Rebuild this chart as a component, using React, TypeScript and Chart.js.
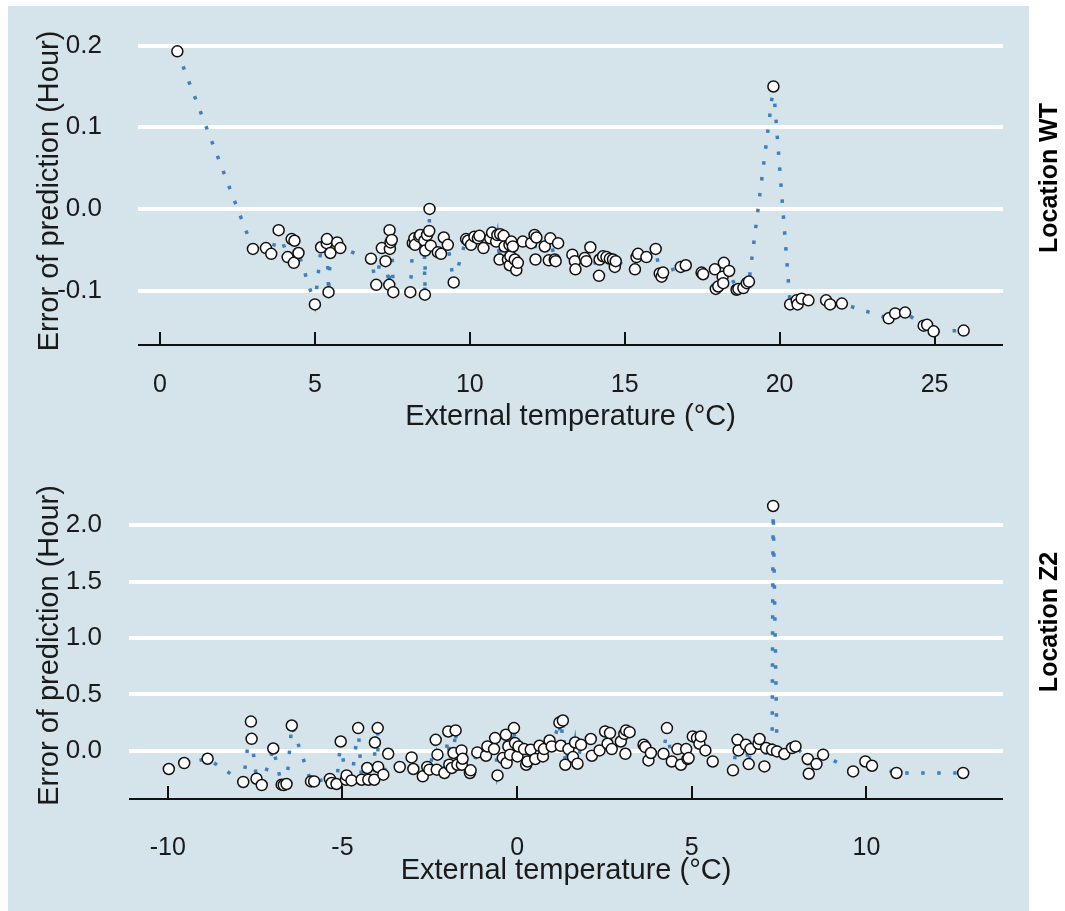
import React, { useEffect, useRef } from 'react';
import { Chart, registerables } from 'chart.js';

Chart.register(...registerables);

// ---------- Data ----------
const wtTemp = [
  0.56, 3.0, 3.42, 3.59, 3.83, 4.12, 4.25, 4.32, 4.34, 4.47, 5.0, 5.2, 5.38, 5.39, 5.44, 5.5, 5.72, 5.82,
  6.81, 6.98, 7.16, 7.28, 7.4, 7.41, 7.42, 7.44, 7.48, 7.53, 8.08, 8.16, 8.21, 8.23, 8.37, 8.4, 8.53, 8.55,
  8.56, 8.62, 8.69, 8.7, 8.74, 8.97, 9.07, 9.16, 9.29, 9.48, 9.88, 9.94, 10.04, 10.15, 10.26, 10.31, 10.44,
  10.66, 10.72, 10.85, 10.89, 10.96, 10.98, 11.09, 11.12, 11.23, 11.28, 11.29, 11.31, 11.34, 11.39, 11.45,
  11.5, 11.55, 11.71, 11.98, 12.09, 12.12, 12.15, 12.42, 12.55, 12.6, 12.74, 12.77, 12.85, 13.31, 13.39,
  13.41, 13.71, 13.76, 13.89, 14.17, 14.19, 14.3, 14.41, 14.52, 14.62, 14.68, 14.71, 15.33, 15.38, 15.43,
  15.7, 16.0, 16.13, 16.19, 16.24, 16.81, 16.97, 17.48, 17.53, 17.91, 17.94, 18.02, 18.16, 18.18, 18.2,
  18.37, 18.61, 18.67, 18.83, 18.94, 19.01, 19.8, 20.34, 20.55, 20.58, 20.71, 20.93, 21.5, 21.63, 22.01,
  23.52, 23.73, 24.05, 24.65, 24.76, 24.97, 25.94,
];
const wtError = [
  0.193, -0.049, -0.048, -0.055, -0.026, -0.059, -0.037, -0.066, -0.039, -0.054, -0.117, -0.047, -0.042,
  -0.037, -0.102, -0.054, -0.041, -0.048, -0.061, -0.093, -0.048, -0.064, -0.093, -0.026, -0.049, -0.041,
  -0.038, -0.102, -0.102, -0.042, -0.036, -0.044, -0.034, -0.032, -0.039, -0.105, -0.051, -0.032, -0.027,
  0.0, -0.045, -0.053, -0.055, -0.035, -0.044, -0.09, -0.037, -0.039, -0.044, -0.034, -0.036, -0.033,
  -0.048, -0.036, -0.029, -0.04, -0.032, -0.062, -0.031, -0.033, -0.046, -0.062, -0.044, -0.069, -0.058,
  -0.04, -0.046, -0.062, -0.075, -0.066, -0.04, -0.042, -0.032, -0.062, -0.035, -0.046, -0.063, -0.036,
  -0.062, -0.064, -0.042, -0.056, -0.064, -0.074, -0.06, -0.064, -0.047, -0.082, -0.062, -0.058, -0.059,
  -0.061, -0.062, -0.071, -0.064, -0.074, -0.059, -0.055, -0.059, -0.049, -0.079, -0.083, -0.078, -0.071,
  -0.069, -0.078, -0.08, -0.074, -0.098, -0.095, -0.083, -0.091, -0.066, -0.076, -0.099, -0.098, -0.097,
  -0.091, -0.089, 0.15, -0.117, -0.112, -0.117, -0.11, -0.112, -0.112, -0.117, -0.116, -0.134, -0.128,
  -0.127, -0.143, -0.142, -0.15, -0.149,
];

const z2Temp = [
  -9.97, -9.53, -8.86, -7.84, -7.62, -7.6, -7.46, -7.31, -6.98, -6.74, -6.68, -6.6, -6.45, -5.9, -5.81,
  -5.36, -5.31, -5.17, -5.05, -4.9, -4.88, -4.74, -4.55, -4.45, -4.29, -4.26, -4.09, -4.07, -3.99, -3.98,
  -3.83, -3.69, -3.36, -3.02, -2.97, -2.7, -2.57, -2.51, -2.33, -2.3, -2.28, -2.08, -1.97, -1.94, -1.87,
  -1.82, -1.76, -1.71, -1.59, -1.58, -1.56, -1.35, -1.33, -1.14, -0.89, -0.85, -0.66, -0.63, -0.56, -0.41,
  -0.32, -0.3, -0.25, -0.2, -0.09, -0.06, 0.01, 0.04, 0.2, 0.26, 0.3, 0.39, 0.52, 0.64, 0.74, 0.77, 0.93,
  0.99, 1.21, 1.25, 1.31, 1.38, 1.47, 1.6, 1.66, 1.73, 1.83, 2.11, 2.14, 2.36, 2.52, 2.59, 2.66, 2.71, 2.97,
  3.07, 3.1, 3.12, 3.22, 3.62, 3.67, 3.76, 3.83, 4.19, 4.29, 4.43, 4.59, 4.69, 4.84, 4.88, 4.91, 5.03, 5.15,
  5.22, 5.26, 5.39, 5.6, 6.18, 6.31, 6.34, 6.55, 6.63, 6.68, 6.91, 6.94, 7.08, 7.13, 7.3, 7.33, 7.44, 7.65,
  7.87, 7.97, 8.32, 8.35, 8.57, 8.76, 9.62, 9.97, 10.16, 10.86, 12.77,
];
const z2Error = [
  -0.162, -0.109, -0.071, -0.277, 0.259, 0.106, -0.248, -0.304, 0.02, -0.301, -0.304, -0.295, 0.224, -0.272,
  -0.272, -0.25, -0.286, -0.295, 0.082, -0.257, -0.219, -0.263, 0.201, -0.257, -0.153, -0.257, -0.257,
  0.073, 0.201, -0.144, -0.212, -0.027, -0.144, -0.059, -0.162, -0.227, -0.144, -0.168, 0.097, -0.168,
  -0.035, -0.197, 0.171, -0.124, -0.153, -0.02, 0.18, -0.124, 0.003, -0.124, -0.071, -0.197, -0.174, -0.015,
  -0.044, 0.038, 0.015, 0.112, -0.219, -0.065, 0.142, -0.109, 0.038, -0.035, 0.201, 0.068, -0.05, 0.038,
  0.015, -0.124, -0.095, 0.009, -0.073, 0.044, -0.05, 0.015, 0.091, 0.038, 0.25, 0.044, 0.268, -0.124,
  0.015, -0.056, 0.073, -0.115, 0.053, 0.104, -0.044, 0.003, 0.171, 0.062, 0.157, 0.015, 0.082, 0.15,
  -0.027, 0.18, 0.165, 0.053, 0.033, -0.086, -0.02, -0.027, 0.201, -0.095, 0.015, -0.124, 0.015, -0.073,
  -0.065, 0.127, 0.112, 0.062, 0.127, 0.003, -0.095, -0.174, 0.097, 0.003, 0.053, -0.118, 0.015, 0.062,
  0.104, -0.139, 0.024, 0.009, 2.171, -0.006, -0.029, 0.024, 0.038, -0.073, -0.204, -0.118, -0.035, -0.183,
  -0.095, -0.133, -0.197, -0.197,
];

const wtXTicks = [0, 5, 10, 15, 20, 25];
const wtYTicks = [-0.1, 0.0, 0.1, 0.2];
const z2XTicks = [-10, -5, 0, 5, 10];
const z2YTicks = [0.0, 0.5, 1.0, 1.5, 2.0];

const xTitle = 'External temperature (°C)';
const yTitle = 'Error of prediction (Hour)';
const wtStrip = 'Location WT';
const z2Strip = 'Location Z2';

// ---------- Styling ----------
const FONT = "'Liberation Sans', Arial, Helvetica, sans-serif";
const PANEL_BG = '#d5e3ea';
const TEXT = '#1a1a1a';
const LINE_COLOR = '#3f7fbd';

const axisDecor = {
  id: 'axisDecor',
  beforeDatasetsDraw(chart: any) {
    const { ctx, chartArea, scales } = chart;
    const xs = scales.x;
    ctx.save();
    ctx.strokeStyle = '#111';
    ctx.lineWidth = 2;
    ctx.beginPath();
    ctx.moveTo(chartArea.left, chartArea.bottom);
    ctx.lineTo(chartArea.right, chartArea.bottom);
    xs.ticks.forEach((t: any) => {
      const px = Math.round(xs.getPixelForValue(t.value));
      ctx.moveTo(px, chartArea.bottom);
      ctx.lineTo(px, chartArea.bottom - 13);
    });
    ctx.stroke();
    ctx.restore();
  },
  afterDraw(chart: any, _args: any, opts: any) {
    const { ctx } = chart;
    ctx.save();
    ctx.translate(opts.stripX, opts.stripY);
    ctx.rotate(-Math.PI / 2);
    ctx.font = `bold 25px ${FONT}`;
    ctx.textAlign = 'center';
    ctx.textBaseline = 'middle';
    ctx.fillStyle = '#000';
    ctx.fillText(opts.strip, 0, 0);
    ctx.restore();
  },
};

type PanelCfg = {
  temps: number[];
  errors: number[];
  xTicks: number[];
  yTicks: number[];
  xMin: number;
  xMax: number;
  yMin: number;
  yMax: number;
  strip: string;
  stripY: number;
  height: number;
  offsetTop: number;
  top: number;
  yAxisWidth: number;
  yTickPad: number;
  xScaleHeight: number;
  xTickPad: number;
  xTitlePadBottom: number;
  rightPad: number;
};

function Panel({ cfg }: { cfg: PanelCfg }) {
  const ref = useRef<HTMLCanvasElement | null>(null);
  useEffect(() => {
    if (!ref.current) return;
    const pts = cfg.temps
      .map((t, i) => ({ x: t, y: cfg.errors[i] }))
      .sort((a, b) => a.x - b.x);
    const chart = new Chart(ref.current, {
      type: 'scatter',
      data: {
        datasets: [
          {
            data: pts,
            showLine: true,
            borderColor: LINE_COLOR,
            borderWidth: 3.5,
            borderDash: [3.5, 12.5],
            borderCapStyle: 'butt',
            tension: 0,
            pointRadius: 5.5,
            pointHoverRadius: 5.5,
            pointBackgroundColor: '#ffffff',
            pointBorderColor: '#111111',
            pointBorderWidth: 1.5,
          } as any,
        ],
      },
      options: {
        animation: false,
        responsive: false,
        devicePixelRatio: 1,
        events: [],
        layout: { padding: { left: 0, right: cfg.rightPad, top: cfg.top, bottom: 0 } },
        plugins: {
          legend: { display: false },
          tooltip: { enabled: false },
          axisDecor: { strip: cfg.strip, stripX: 1050, stripY: cfg.stripY },
        } as any,
        scales: {
          x: {
            type: 'linear',
            min: cfg.xMin,
            max: cfg.xMax,
            afterBuildTicks: (s: any) => {
              s.ticks = cfg.xTicks.map((v) => ({ value: v }));
            },
            afterFit: (s: any) => {
              s.height = cfg.xScaleHeight;
              s.paddingLeft = 0;
              s.paddingRight = 0;
            },
            grid: { display: false, drawTicks: false },
            border: { display: false },
            ticks: {
              autoSkip: false,
              maxRotation: 0,
              padding: cfg.xTickPad,
              color: TEXT,
              font: { size: 25, family: FONT },
              callback: (v: any) => String(v),
            },
            title: {
              display: true,
              text: xTitle,
              color: TEXT,
              font: { size: 29, family: FONT },
              padding: { top: 0, bottom: cfg.xTitlePadBottom },
            },
          },
          y: {
            type: 'linear',
            min: cfg.yMin,
            max: cfg.yMax,
            afterBuildTicks: (s: any) => {
              s.ticks = cfg.yTicks.map((v) => ({ value: v }));
            },
            afterFit: (s: any) => {
              s.width = cfg.yAxisWidth;
              s.paddingTop = 0;
              s.paddingBottom = 0;
            },
            grid: { color: '#ffffff', lineWidth: 4, drawTicks: false },
            border: { display: false },
            ticks: {
              autoSkip: false,
              padding: cfg.yTickPad,
              color: TEXT,
              font: { size: 26, family: FONT },
              callback: (v: any) => Number(v).toFixed(1),
            },
            title: {
              display: true,
              text: yTitle,
              color: TEXT,
              font: { size: 29, family: FONT },
              padding: { top: 32.5, bottom: 0 },
            },
          },
        },
      },
      plugins: [axisDecor as any],
    });
    return () => chart.destroy();
  }, [cfg]);
  return (
    <canvas
      ref={ref}
      width={1065}
      height={cfg.height}
      style={{ position: 'absolute', left: 0, top: cfg.offsetTop, width: 1065, height: cfg.height }}
    />
  );
}

const wtCfg: PanelCfg = {
  temps: wtTemp,
  errors: wtError,
  xTicks: wtXTicks,
  yTicks: wtYTicks,
  xMin: -0.71,
  xMax: 27.21,
  yMin: -0.1667,
  yMax: 0.2106,
  strip: wtStrip,
  stripY: 178,
  height: 455,
  offsetTop: 0,
  top: 37,
  yAxisWidth: 138,
  yTickPad: 36,
  xScaleHeight: 110,
  xTickPad: 25,
  xTitlePadBottom: 21,
  rightPad: 62,
};

const z2Cfg: PanelCfg = {
  temps: z2Temp,
  errors: z2Error,
  xTicks: z2XTicks,
  yTicks: z2YTicks,
  xMin: -11.11,
  xMax: 13.91,
  yMin: -0.428,
  yMax: 2.295,
  strip: z2Strip,
  stripY: 167,
  height: 456,
  offsetTop: 455,
  top: 37,
  yAxisWidth: 129,
  yTickPad: 27,
  xScaleHeight: 112,
  xTickPad: 34,
  xTitlePadBottom: 23,
  rightPad: 62,
};

export default function App() {
  return (
    <div style={{ position: 'absolute', left: 0, top: 0, width: 1065, height: 911, background: '#ffffff', overflow: 'hidden' }}>
      <div style={{ position: 'absolute', left: 8, top: 6, width: 1021, height: 905, background: PANEL_BG }} />
      <Panel cfg={wtCfg} />
      <Panel cfg={z2Cfg} />
    </div>
  );
}
